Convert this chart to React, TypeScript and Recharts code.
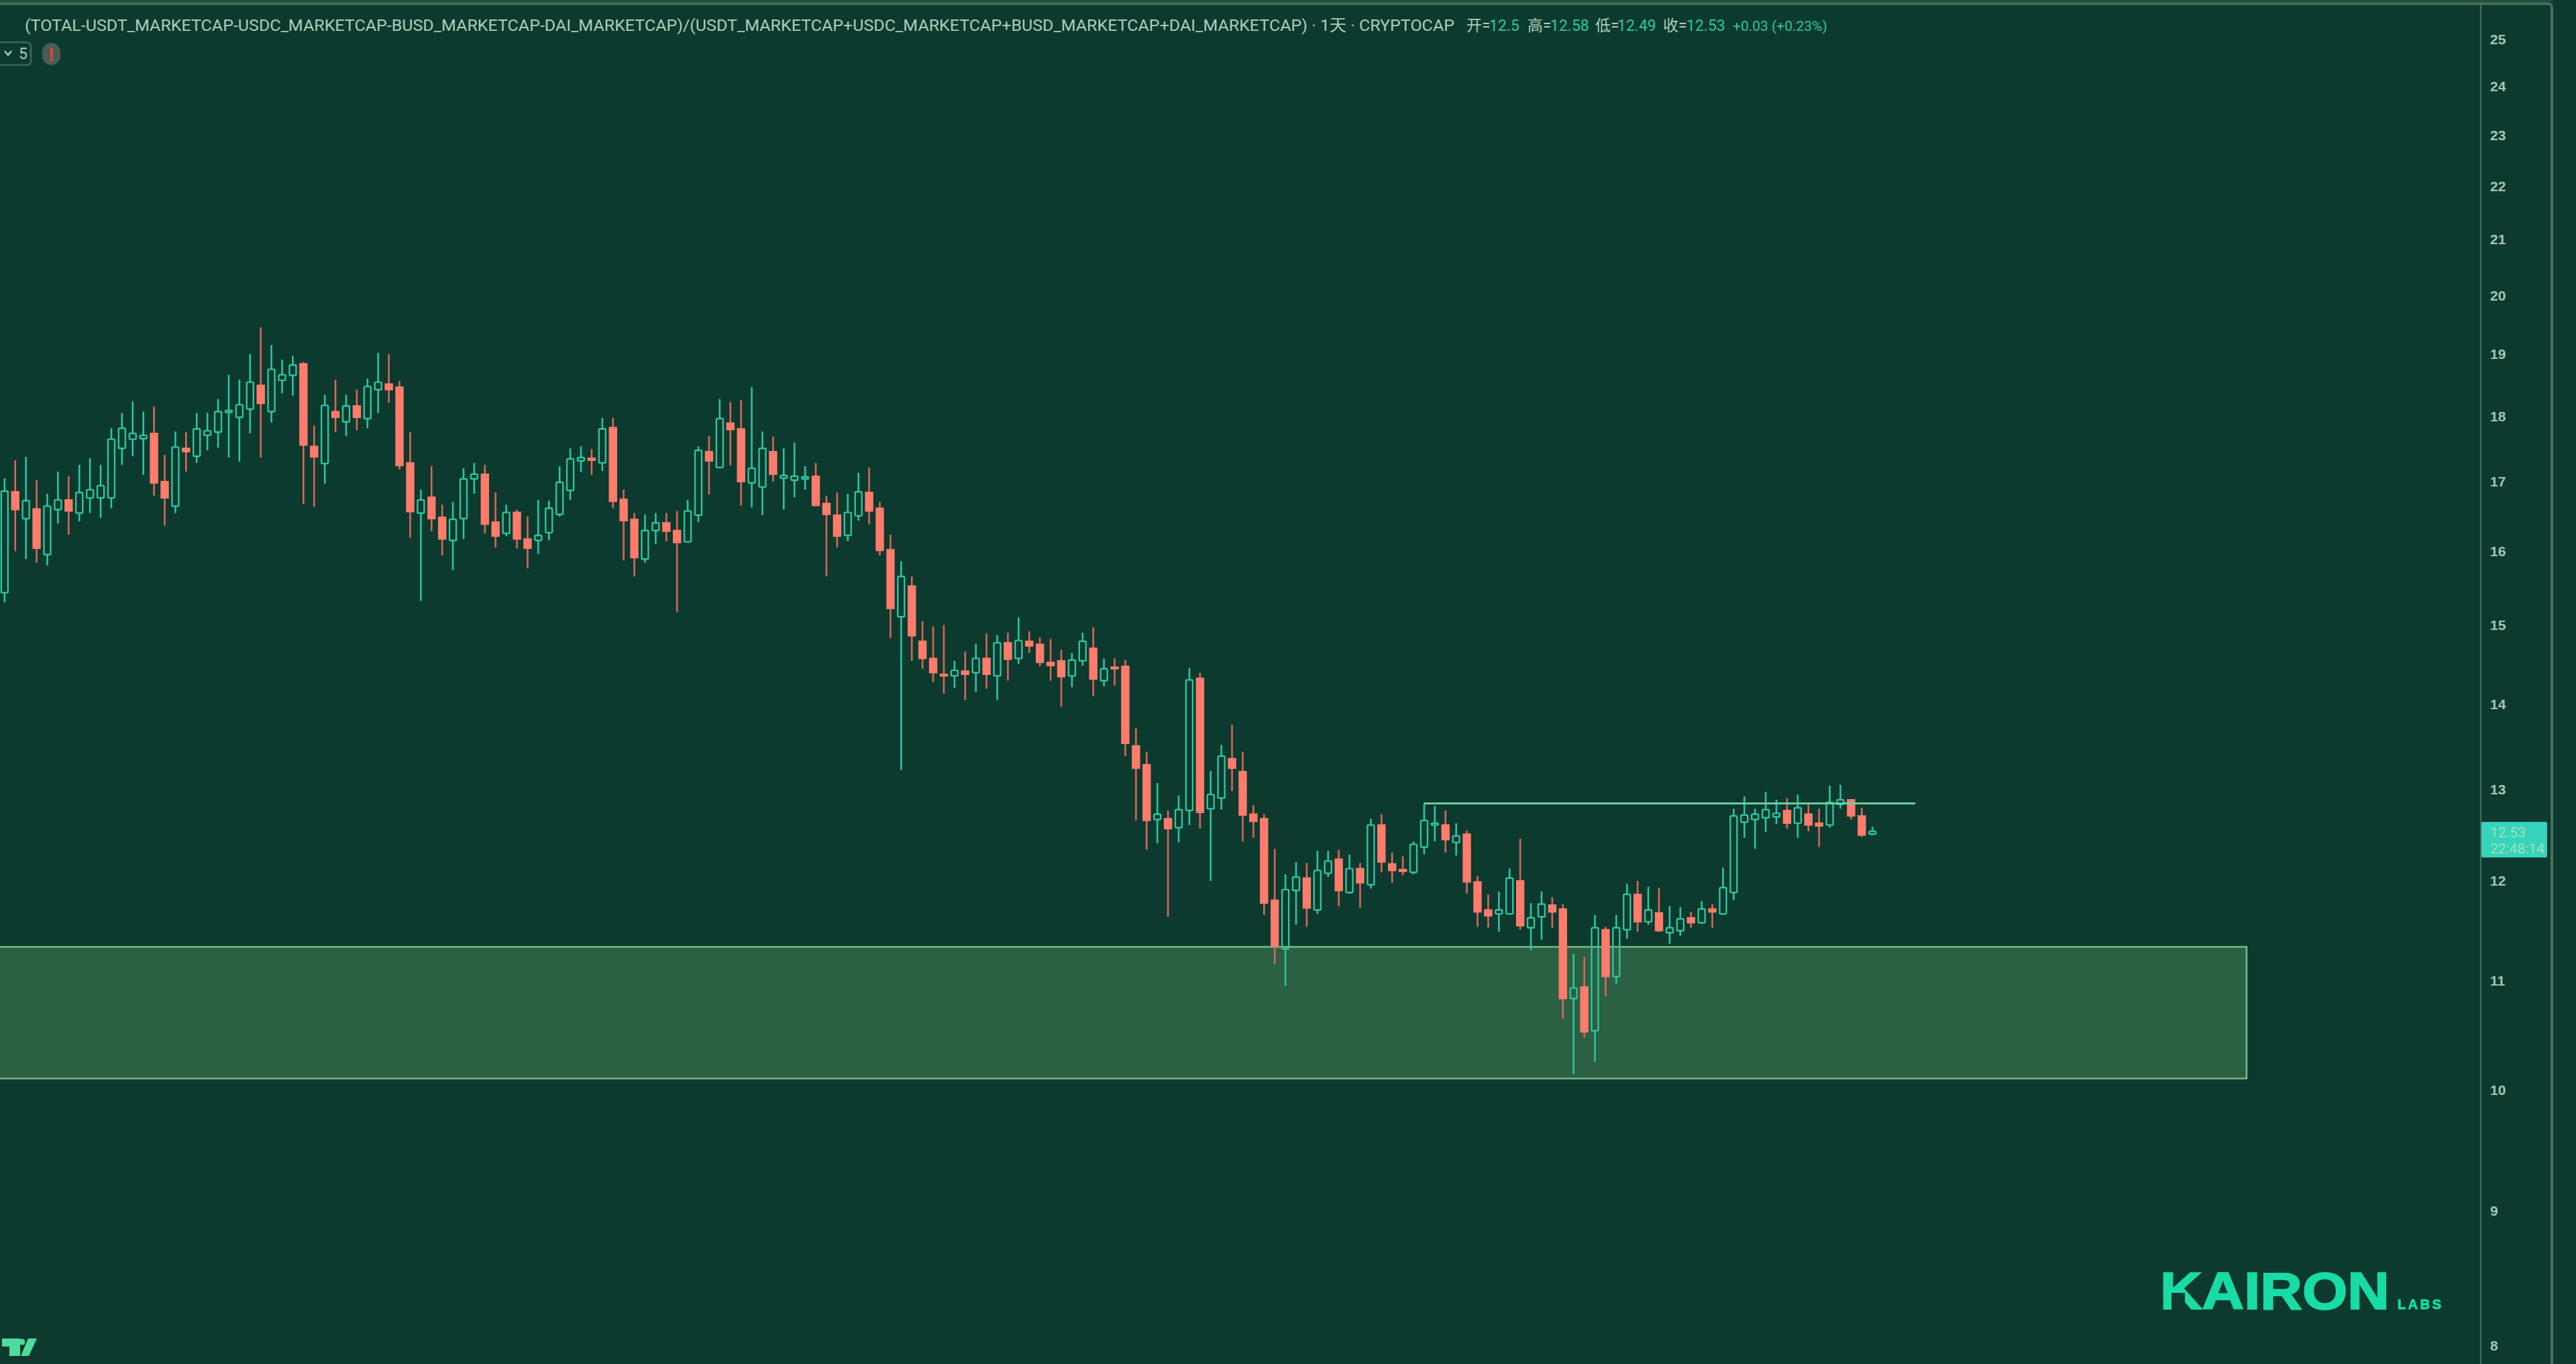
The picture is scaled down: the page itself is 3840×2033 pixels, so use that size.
import React from "react";
import { ComposedChart, Bar, XAxis, YAxis, ReferenceArea, ReferenceLine } from "recharts";

const opens = [
  15.43,16.85,16.46,16.6,15.95,16.59,16.73,16.54,16.76,16.76,
  16.76,17.5,17.64,17.65,17.73,17.0,16.64,17.5,17.38,17.7,
  17.75,18.06,17.98,18.11,18.49,18.07,18.57,18.65,18.84,17.53,
  17.27,18.07,17.91,18.16,17.96,18.42,18.51,18.46,17.28,16.54,
  16.77,16.48,16.15,16.46,17.04,17.11,16.41,16.25,16.55,16.17,
  16.15,16.26,16.52,16.87,17.31,17.35,17.28,17.82,16.74,16.45,
  15.89,16.29,16.4,16.29,16.13,16.51,17.45,17.21,17.89,17.8,
  16.98,16.92,17.45,17.05,17.02,17.04,17.08,16.68,16.51,16.22,
  16.5,16.84,16.61,16.02,15.11,15.52,14.79,14.57,14.37,14.35,
  14.41,14.39,14.57,14.35,14.77,14.57,14.79,14.75,14.52,14.54,
  14.35,14.54,14.7,14.29,14.46,14.47,13.5,13.28,12.66,12.67,
  12.57,12.76,14.32,12.78,12.9,13.35,13.2,12.72,12.67,11.8,
  11.31,11.9,12.03,11.7,12.08,12.23,11.88,12.13,11.96,12.6,
  12.18,12.12,12.09,12.36,12.6,12.6,12.41,12.5,11.99,11.7,
  11.66,11.66,12.0,11.52,11.63,11.75,11.71,10.83,10.94,10.53,
  11.5,11.04,11.5,11.86,11.58,11.67,11.47,11.49,11.62,11.57,
  11.71,11.66,11.88,12.63,12.66,12.68,12.69,12.76,12.62,12.72,
  12.62,12.6,12.83,12.88,12.7,12.5,
];
const highs = [
  17.05,17.32,17.37,17.02,16.82,17.15,17.08,17.25,17.35,17.25,
  17.81,18.05,18.23,18.07,18.15,17.4,17.76,17.75,18.05,18.05,
  18.27,18.66,18.58,19.0,19.45,19.15,18.91,18.97,18.87,17.85,
  18.34,18.58,18.34,18.42,18.6,19.02,19.0,18.56,17.75,16.88,
  17.23,16.66,16.7,17.2,17.28,17.25,16.84,16.66,16.59,16.49,
  16.73,16.72,17.23,17.5,17.53,17.49,17.97,17.97,16.88,16.54,
  16.52,16.54,16.54,16.57,16.73,17.53,17.69,18.27,18.22,18.25,
  18.46,17.76,17.68,17.5,17.59,17.23,17.28,16.79,16.84,16.82,
  17.13,17.21,16.7,16.23,15.86,15.65,15.05,14.98,15.0,14.54,
  14.66,14.76,14.89,14.87,14.9,15.1,14.92,14.84,14.82,14.68,
  14.64,14.9,14.97,14.57,14.57,14.55,13.71,13.43,13.07,12.76,
  12.93,14.45,14.39,13.21,13.51,13.75,13.43,12.82,12.72,12.34,
  12.07,12.2,12.19,12.32,12.32,12.33,12.28,12.19,12.67,12.72,
  12.3,12.26,12.42,12.84,12.81,12.76,12.62,12.54,12.05,11.86,
  11.89,12.13,12.45,11.77,11.89,11.83,11.76,11.26,11.23,11.65,
  11.53,11.65,11.97,12.0,11.94,11.93,11.74,11.73,11.68,11.79,
  11.76,12.14,12.78,12.92,12.78,12.97,12.88,12.9,12.94,12.83,
  12.78,13.04,13.05,12.89,12.79,12.58,
];
const lows = [
  15.3,16.0,15.89,15.84,15.8,16.39,16.23,16.42,16.54,16.47,
  16.61,17.25,17.38,17.1,16.79,16.36,16.54,17.15,17.28,17.47,
  17.51,17.36,17.3,17.73,17.36,17.9,18.36,18.32,16.67,16.63,
  16.97,17.75,17.69,17.78,17.81,18.05,18.21,17.18,16.19,15.32,
  16.28,15.94,15.74,16.17,16.82,16.25,16.05,16.21,16.04,15.76,
  15.96,16.15,16.49,16.73,17.14,17.1,17.16,16.61,15.87,15.65,
  15.84,16.1,16.14,15.17,16.12,16.41,16.81,17.2,17.24,16.65,
  16.62,16.51,17.0,16.59,16.77,16.88,16.64,15.65,16.05,16.14,
  16.43,16.38,15.94,14.83,13.22,14.54,14.44,14.27,14.13,14.2,
  14.05,14.15,14.19,14.05,14.29,14.5,14.64,14.47,14.29,13.97,
  14.21,14.48,14.1,14.22,14.23,13.38,12.65,12.33,12.4,11.63,
  12.41,12.6,12.56,12.0,12.77,12.98,12.42,12.46,11.65,11.16,
  10.95,11.55,11.53,11.66,12.04,11.74,11.87,11.72,11.92,12.09,
  11.98,12.06,12.07,12.28,12.42,12.3,12.27,11.87,11.53,11.52,
  11.48,11.66,11.5,11.3,11.4,11.52,10.64,10.14,10.47,10.25,
  10.85,10.97,11.41,11.48,11.55,11.48,11.36,11.44,11.52,11.56,
  11.52,11.65,11.8,12.46,12.34,12.52,12.61,12.56,12.46,12.53,
  12.36,12.57,12.78,12.66,12.47,12.49,
];
const closes = [
  16.86,16.59,16.72,16.04,16.64,16.73,16.57,16.84,16.88,16.94,
  17.64,17.81,17.73,17.7,16.98,16.76,17.52,17.45,17.8,17.77,
  18.07,18.09,18.18,18.54,18.2,18.75,18.66,18.82,17.55,17.37,
  18.17,17.98,18.16,17.98,18.47,18.54,18.42,17.24,16.56,16.73,
  16.46,16.17,16.45,17.04,17.11,16.38,16.21,16.55,16.17,16.04,
  16.22,16.61,16.99,17.34,17.36,17.32,17.8,16.71,16.43,15.91,
  16.29,16.4,16.28,16.12,16.57,17.47,17.31,17.96,17.79,17.0,
  17.2,17.5,17.11,17.09,17.08,17.07,16.65,16.52,16.21,16.55,
  16.85,16.57,16.01,15.22,15.65,14.86,14.57,14.39,14.35,14.42,
  14.37,14.57,14.37,14.77,14.56,14.8,14.73,14.52,14.48,14.34,
  14.55,14.79,14.31,14.44,14.44,13.53,13.24,12.65,12.72,12.56,
  12.77,14.3,12.74,12.94,13.38,13.24,12.71,12.64,11.77,11.34,
  11.91,12.04,11.72,12.11,12.21,11.9,12.13,11.98,12.6,12.2,
  12.11,12.1,12.39,12.65,12.62,12.44,12.48,11.99,11.68,11.64,
  11.7,12.03,11.54,11.62,11.76,11.68,10.83,10.93,10.52,11.52,
  11.04,11.52,11.86,11.58,11.7,11.49,11.52,11.61,11.57,11.71,
  11.68,11.93,12.7,12.71,12.72,12.77,12.73,12.62,12.79,12.6,
  12.59,12.85,12.88,12.7,12.49,12.53,
];
const priceTicks = [8, 9, 10, 11, 12, 13, 14, 15, 16, 17, 18, 19, 20, 21, 22, 23, 24, 25];

const zoneTop = 11.33;
const zoneBottom = 10.1;
const resistance = 12.84;

const rows = opens.map((o, i) => ({
  i,
  open: o,
  high: highs[i],
  low: lows[i],
  close: closes[i],
  range: [lows[i], highs[i]],
}));

const BG = "#0d3a2e";
const UP = "#2cc5a1";
const DOWN = "#ff7b6c";
const DOWN_WICK = "#d9675a";
const FRAME = "#3d6a57";

function Candle(props: any) {
  const { x, y, width, height, payload } = props;
  const { open, high, low, close } = payload;
  const cx = x + width / 2;
  const at = (p: number) => y + (height * Math.log(high / p)) / Math.log(high / low);
  const up = close >= open;
  const top = at(Math.max(open, close));
  const bottom = at(Math.min(open, close));
  const color = up ? UP : DOWN;
  const wick = up ? UP : DOWN_WICK;
  return (
    <g>
      <line x1={cx} x2={cx} y1={y} y2={top} stroke={wick} strokeWidth={2.6} />
      <line x1={cx} x2={cx} y1={bottom} y2={y + height} stroke={wick} strokeWidth={2.6} />
      {up ? (
        <rect x={cx - 5} y={top} width={10} height={Math.max(bottom - top, 1)} rx={1.5} fill="none" stroke={color} strokeWidth={2.4} />
      ) : (
        <rect x={cx - 6.2} y={top - 1} width={12.4} height={Math.max(bottom - top, 1) + 2} fill={color} />
      )}
    </g>
  );
}

const TEXT_FONT = "Roboto, 'Noto Sans CJK SC', sans-serif";

function Overlay() {
  return (
    <svg width={3840} height={2033} style={{ position: "absolute", left: 0, top: 0, pointerEvents: "none" }}>
      <rect x={0} y={0} width={3805} height={3} fill="#24503f" />
      <path d="M0 5.5 H3798 Q3804 5.5 3804 12 V2033" fill="none" stroke="#466f5d" strokeWidth={4} />
      <text x={37} y={46} fontFamily={TEXT_FONT} fontSize={24} fill="#a9cfba" textLength={2131} lengthAdjust="spacingAndGlyphs">
        (TOTAL-USDT_MARKETCAP-USDC_MARKETCAP-BUSD_MARKETCAP-DAI_MARKETCAP)/(USDT_MARKETCAP+USDC_MARKETCAP+BUSD_MARKETCAP+DAI_MARKETCAP) · 1天 · CRYPTOCAP
      </text>
      <g fontFamily={TEXT_FONT} fontSize={23}>
        <text x={2186} y={46} fill="#a9cfba">开=</text>
        <text x={2220} y={46} fill={UP}>12.5</text>
        <text x={2277} y={46} fill="#a9cfba">高=</text>
        <text x={2311} y={46} fill={UP}>12.58</text>
        <text x={2378} y={46} fill="#a9cfba">低=</text>
        <text x={2411} y={46} fill={UP}>12.49</text>
        <text x={2479} y={46} fill="#a9cfba">收=</text>
        <text x={2514} y={46} fill={UP}>12.53</text>
        <text x={2583} y={46} fill={UP} fontSize={21}>+0.03 (+0.23%)</text>
      </g>
      <rect x={-8} y={63} width={54} height={34} rx={6} fill="none" stroke={FRAME} strokeWidth={2.5} />
      <path d="M7 76 L12 82 L17 76" fill="none" stroke="#a9cfba" strokeWidth={2.5} />
      <text x={28} y={88} fontFamily={TEXT_FONT} fontSize={23} fill="#a9cfba">5</text>
      <rect x={63} y={64} width={27} height={33} rx={13.5} fill="#4b5c52" />
      <text x={76.5} y={91} textAnchor="middle" fontFamily="'Liberation Sans', sans-serif" fontSize={28} fontWeight={700} fill="#f03c4e">!</text>

      <rect x={3699} y={1225} width={98} height={53} rx={2} fill="#38d3bc" />
      <text x={3712} y={1248} fontFamily={TEXT_FONT} fontSize={21} fill="#9ce6b4">12.53</text>
      <text x={3712} y={1272} fontFamily={TEXT_FONT} fontSize={21} fill="#9ce6b4">22:48:14</text>

      <text x={3220} y={1951} fontFamily="'Liberation Sans', sans-serif" fontWeight={700} fontSize={78} fill="#18dba5" stroke="#18dba5" strokeWidth={2} textLength={342} lengthAdjust="spacingAndGlyphs">KAIRON</text>
      <rect x={3237} y={1927} width={20} height={27} fill={BG} />
      <text x={3574} y={1951} fontFamily="'Liberation Sans', sans-serif" fontWeight={700} fontSize={20} fill="#18dba5" stroke="#18dba5" strokeWidth={0.8} textLength={65} lengthAdjust="spacing">LABS</text>

      <g fill="#4ddc9e">
        <path d="M3 1995 H30 V2021 H14 V2007 H3 Z" />
        <circle cx={33} cy={2000} r={4.5} />
        <path d="M42 1995 H55 L43 2021 H31 Z" />
      </g>
    </svg>
  );
}

export default function App() {
  return (
    <div style={{ position: "absolute", left: 0, top: 0, width: 3840, height: 2033, background: BG, overflow: "hidden" }}>
      <ComposedChart width={3840} height={2033} data={rows} margin={{ top: 0, right: 0, bottom: 0, left: 0 }}>
        <XAxis dataKey="i" type="number" domain={[-0.421, 232.0]} hide allowDataOverflow />
        <YAxis
          orientation="right"
          width={142}
          scale="log"
          domain={[7.874, 25.875]}
          allowDataOverflow
          ticks={priceTicks}
          interval={0}
          tickSize={0}
          tickMargin={14}
          axisLine={{ stroke: FRAME, strokeWidth: 2.5 }}
          tickLine={false}
          tick={{ fill: "#a3c7b4", fontSize: 21, fontWeight: 600, fontFamily: "'Liberation Sans', sans-serif" }}
        />
        <ReferenceArea
          x1={-3}
          x2={210.06}
          y1={zoneBottom}
          y2={zoneTop}
          fill="#2c6043"
          fillOpacity={1}
          stroke="#7ab58c"
          strokeWidth={2.6}
          ifOverflow="hidden"
        />
        <ReferenceLine
          segment={[
            { x: 133, y: resistance },
            { x: 179.03, y: resistance },
          ]}
          stroke="#68cda4"
          strokeWidth={3}
        />
        <Bar dataKey="range" shape={Candle} isAnimationActive={false} />
      </ComposedChart>
      <Overlay />
    </div>
  );
}
